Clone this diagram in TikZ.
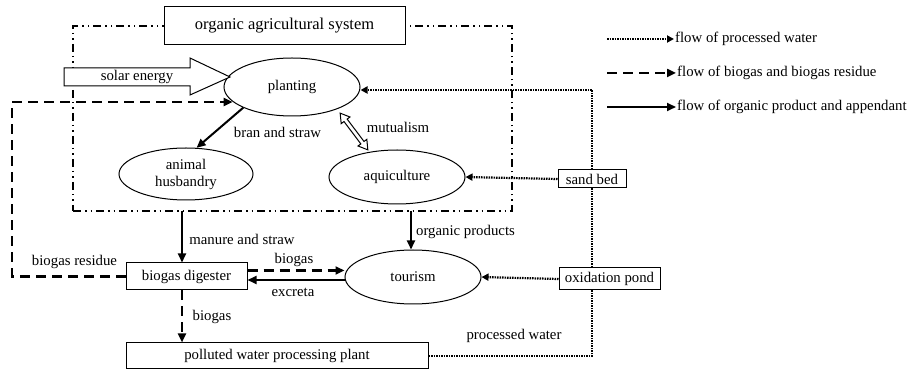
\documentclass[tikz,border=0pt]{standalone}
\usepackage{fontspec}
\setmainfont{Liberation Serif}
\usetikzlibrary{arrows.meta,shapes.geometric}
\begin{document}
\begin{tikzpicture}[x=1pt,y=-1pt,
  every node/.style={font=\fontsize{14.8}{17}\selectfont, inner sep=0pt},
  oval/.style={ellipse, draw, line width=1pt, minimum width=136pt, minimum height=56pt},
  boxnode/.style={draw, line width=1pt, fill=white},
  solidflow/.style={line width=2pt, -{Triangle[length=9pt,width=8pt]}},
  dashflow/.style={line width=2.6pt, dash pattern=on 10pt off 6pt, -{Triangle[length=9pt,width=8pt]}},
  dashline/.style={line width=2.6pt, dash pattern=on 10pt off 6pt},
  dotline/.style={line width=2.2pt, dash pattern=on 1.5pt off 1pt},
  dotflow/.style={line width=2.2pt, dash pattern=on 1.5pt off 1pt, -{Triangle[length=7pt,width=7pt]}},
  framestyle/.style={draw, line width=1.5pt, dash pattern=on 8pt off 4pt on 1.5pt off 4pt on 1.5pt off 4pt}
]
\useasboundingbox (0,0) rectangle (908,371);

% frame of the organic agricultural system
\node[framestyle, minimum width=439pt, minimum height=185pt] (frame) at (292.5,118.5) {};
\node[boxnode, minimum width=241pt, minimum height=38pt, font=\fontsize{16.5}{19}\selectfont] (title) at (284.5,26) {organic agricultural system};

% ellipses
\node[oval, minimum height=58pt] (plant) at (292,87) {planting};
\node[oval, minimum width=134pt, minimum height=52pt, align=center] (animal) at (186,174) {animal\\husbandry};
\node[oval, minimum height=54pt] (aqui) at (397,177) {aquiculture};
\node[oval, minimum height=54pt] (tour) at (413,277) {tourism};

% boxes
\node[boxnode, minimum width=121pt, minimum height=27pt] (dig) at (186.5,276.5) {biogas digester};
\node[boxnode, minimum width=302pt, minimum height=26pt] (pol) at (277,356) {polluted water processing plant};
\node[boxnode, minimum width=68pt, minimum height=18pt] (sand) at (592,179) {sand bed};
\node[boxnode, minimum width=101pt, minimum height=22pt] (ox) at (609.5,279) {oxidation pond};

% solar energy arrow
\draw[line width=1pt, fill=white] (64,68) -- (190,68) -- (190,58) -- (230,77) -- (190,95) -- (190,86) -- (64,86) -- cycle;
\node (solar) at (137,77) {solar energy};

% bran and straw
\draw[solidflow] (plant.203) -- (animal.68);
\node (lbran) at (277.5,132) {bran and straw};

% mutualism double open arrow
\begin{scope}[shift={(354,131.5)}, rotate=-53]
\draw[line width=1pt, fill=white] (-23,0) -- (-14,5.5) -- (-14,2) -- (14,2) -- (14,5.5) -- (23,0) -- (14,-5.5) -- (14,-2) -- (-14,-2) -- (-14,-5.5) -- cycle;
\end{scope}
\node (lmut) at (398,127) {mutualism};

% manure and straw
\coordinate (mx) at (182,211);
\draw[solidflow] (mx) -- (mx |- dig.north);
\node (lman) at (242,239) {manure and straw};

% organic products
\coordinate (ox1) at (411,211);
\draw[solidflow] (ox1) -- (ox1 |- tour.north);
\node (lorg) at (465.5,232) {organic products};

% biogas to tourism and excreta
\draw[dashflow] ([yshift=6pt]dig.east) -- ([yshift=6pt]dig.east -| tour.west);
\node (lbg1) at (294,260) {biogas};
\draw[solidflow] ([yshift=-3.5pt]dig.east -| tour.west) -- ([yshift=-3.5pt]dig.east);
\node (lexc) at (293,292) {excreta};

% biogas down to plant
\draw[dashflow] (dig.south -| mx) -- (pol.north -| mx);
\node (lbg2) at (212,317) {biogas};

% biogas residue back to planting
\coordinate (dc) at (12,102);
\draw[dashflow] (dig.west) -| (dc) -- (dc -| plant.194.5);
\node (lres) at (74.5,262) {biogas residue};

% processed water loop
\draw[dotline] (pol.east) -| (ox.south -| sand.south);
\draw[dotline] (ox.north -| sand.south) -- (sand.south);
\draw[dotflow] (sand.north) |- ([yshift=-3pt]plant.east);
\draw[dotflow] (sand.west) -- (aqui.east);
\draw[dotflow] (ox.west) -- (tour.east);
\node (lpw) at (514,336) {processed water};

% legend
\coordinate (l1a) at (607,39);
\coordinate (l1b) at (674,39);
\coordinate (l2a) at (607,73);
\coordinate (l2b) at (676,73);
\coordinate (l3a) at (607,107);
\coordinate (l3b) at (676,107);
\draw[dotflow] (l1a) -- (l1b);
\node[anchor=west] (t1) at ([xshift=1pt]l1b) {flow of processed water};
\draw[dashflow] (l2a) -- (l2b);
\node[anchor=west] (t2) at ([xshift=1pt]l2b) {flow of biogas and biogas residue};
\draw[solidflow] (l3a) -- (l3b);
\node[anchor=west] (t3) at ([xshift=1pt]l3b) {flow of organic product and appendant};
\end{tikzpicture}
\end{document}
